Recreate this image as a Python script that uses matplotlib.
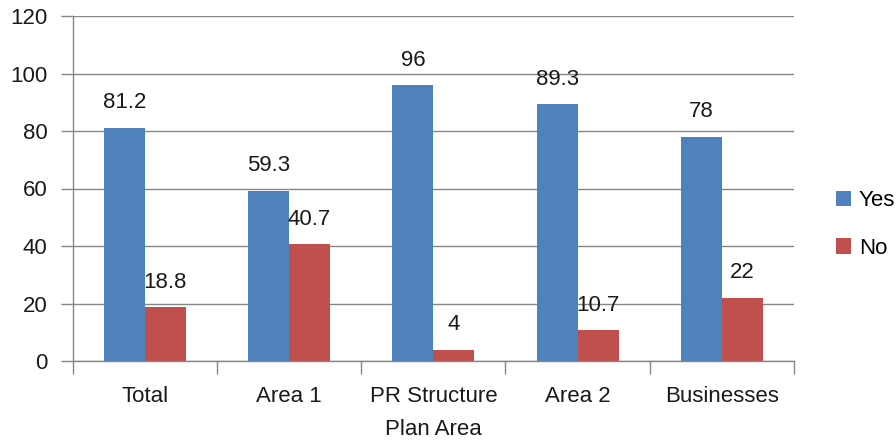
import matplotlib
matplotlib.use("Agg")
import matplotlib.pyplot as plt
from matplotlib.patches import Patch
import numpy as np

categories = ["Total", "Area 1", "PR Structure\nPlan Area", "Area 2", "Businesses"]
yes_values = [81.2, 59.3, 96, 89.3, 78]
no_values = [18.8, 40.7, 4, 10.7, 22]
yes_labels = ["81.2", "59.3", "96", "89.3", "78"]
no_labels = ["18.8", "40.7", "4", "10.7", "22"]
y_ticks = [0, 20, 40, 60, 80, 100, 120]

BLUE = "#4F81BD"
RED = "#C0504D"
GRID = "#868686"

plt.rcParams['font.family'] = ['Liberation Sans', 'DejaVu Sans']
plt.rcParams['font.size'] = 16

fig = plt.figure(figsize=(8.96, 4.43), dpi=100)
ax = fig.add_axes([72.7 / 896, 1 - 361 / 443, (794 - 72.7) / 896, (361 - 16) / 443])

x = np.arange(len(categories))
w = 0.284

# bars
ax.bar(x - w / 2, yes_values, w, color=BLUE, zorder=3)
ax.bar(x + w / 2, no_values, w, color=RED, zorder=3)

# value labels above bars
for xi, v, t in zip(x - w / 2, yes_values, yes_labels):
    ax.annotate(t, (xi, v), xytext=(0, 14), textcoords='offset points',
                ha='center', va='baseline', color='#1a1a1a')
for xi, v, t in zip(x + w / 2, no_values, no_labels):
    ax.annotate(t, (xi, v), xytext=(0, 14), textcoords='offset points',
                ha='center', va='baseline', color='#1a1a1a')

ax.set_xlim(-0.5, len(categories) - 0.5)
ax.set_ylim(0, 120)
ax.set_yticks(y_ticks)
ax.set_yticklabels([str(t) for t in y_ticks])

ax.set_xticks(x)
ax.set_xticklabels(categories, linespacing=1.72)
ax.set_xticks(np.arange(-0.5, len(categories)), minor=True)
ax.tick_params(axis='x', which='major', length=0, pad=18, colors='#1a1a1a')
ax.tick_params(axis='x', which='minor', length=9, width=1, color=GRID)
ax.tick_params(axis='y', length=9, width=1, color=GRID, pad=9, labelcolor='#1a1a1a')

ax.grid(axis='y', color=GRID, linewidth=1, zorder=0)
for s in ['top', 'right']:
    ax.spines[s].set_visible(False)
for s in ['left', 'bottom']:
    ax.spines[s].set_color(GRID)
    ax.spines[s].set_linewidth(1)
    ax.spines[s].set_zorder(4)

handles = [Patch(facecolor=BLUE), Patch(facecolor=RED)]
fig.legend(handles, ["Yes", "No"], loc='upper left', bbox_to_anchor=(836 / 896, 1 - 190 / 443),
           frameon=False, borderpad=0, borderaxespad=0, handlelength=0.68, handleheight=0.68,
           handletextpad=0.35, labelspacing=1.2)

plt.savefig("out.png", dpi=100)
